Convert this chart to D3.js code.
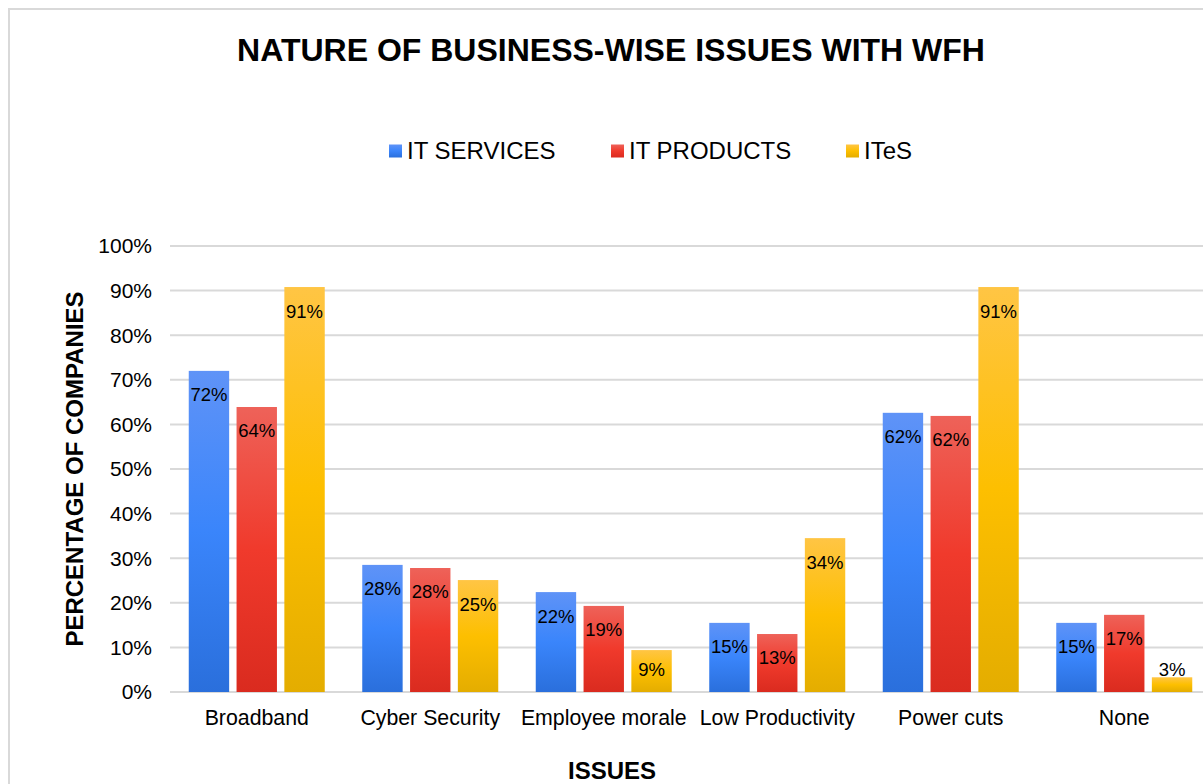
<!DOCTYPE html>
<html><head><meta charset="utf-8">
<script src="https://cdn.jsdelivr.net/npm/d3@7"></script>
<style>html,body{margin:0;padding:0;background:#fff;} svg{display:block;font-family:"Liberation Sans",Arial,sans-serif;}</style>
</head><body>
<svg id="c" width="1203" height="784"></svg>
<script>
const categories = ["Broadband","Cyber Security","Employee morale","Low Productivity","Power cuts","None"];
const seriesNames = ["IT SERVICES","IT PRODUCTS","ITeS"];
const itServices = [72.0, 28.5, 22.4, 15.5, 62.6, 15.5];
const itProducts = [63.9, 27.8, 19.3, 13.0, 61.9, 17.3];
const ites = [90.8, 25.1, 9.4, 34.5, 90.8, 3.3];
const yTicks = [0,10,20,30,40,50,60,70,80,90,100];
const labelText = [
  ["72%","28%","22%","15%","62%","15%"],
  ["64%","28%","19%","13%","62%","17%"],
  ["91%","25%","9%","34%","91%","3%"]
];

const seriesValues = [itServices, itProducts, ites];
const grads = [
  ["#5f93f7","#3a85fb","#2a6fdc"],
  ["#ee6259","#f03a2c","#da2b1f"],
  ["#ffc544","#fdbf00","#e4ad00"]
];

const svg = d3.select("#c");
const defs = svg.append("defs");
grads.forEach((g,i)=>{
  const lg = defs.append("linearGradient").attr("id","g"+i).attr("x1",0).attr("y1",0).attr("x2",0).attr("y2",1);
  lg.append("stop").attr("offset","0%").attr("stop-color",g[0]);
  lg.append("stop").attr("offset","50%").attr("stop-color",g[1]);
  lg.append("stop").attr("offset","100%").attr("stop-color",g[2]);
});

// border
svg.append("rect").attr("x",9).attr("y",9).attr("width",1300).attr("height",900)
  .attr("fill","none").attr("stroke","#d9d9d9").attr("stroke-width",2);

const pL = 170, pR = 170 + 6*173.5, pT = 246, pB = 692;
const y = d3.scaleLinear().domain([0,100]).range([pB, pT]);
const x0 = d3.scaleBand().domain(categories).range([pL, pR]).paddingInner(0).paddingOuter(0);
const x1 = d3.scaleBand().domain(seriesNames).range([18.75, 173.5-18.75]).paddingInner(0.155).paddingOuter(0);

// gridlines
svg.append("g").selectAll("line").data(yTicks).join("line")
  .attr("x1",pL).attr("x2",1210).attr("y1",d=>y(d)).attr("y2",d=>y(d))
  .attr("stroke","#d9d9d9").attr("stroke-width",2);

// y tick labels
svg.append("g").selectAll("text").data(yTicks).join("text")
  .attr("x",152).attr("y",d=>y(d)).attr("dy","0.35em").attr("text-anchor","end")
  .attr("font-size",21).attr("fill","#000").text(d=>d+"%");

// bars
const barData = [];
seriesValues.forEach((vals,si)=>vals.forEach((v,ci)=>barData.push({si,ci,v})));
svg.append("g").selectAll("rect").data(barData).join("rect")
  .attr("x",d=>x0(categories[d.ci])+x1(seriesNames[d.si]))
  .attr("width",x1.bandwidth())
  .attr("y",d=>y(d.v)).attr("height",d=>y(0)-y(d.v))
  .attr("fill",d=>"url(#g"+d.si+")");

// labels
svg.append("g").selectAll("text").data(barData).join("text")
  .attr("x",d=>x0(categories[d.ci])+x1(seriesNames[d.si])+x1.bandwidth()/2)
  .attr("y",d=>Math.min(y(d.v)+24, y(0)-22))
  .attr("dy","0.35em").attr("text-anchor","middle").attr("font-size",18.5).attr("fill","#000")
  .text(d=>labelText[d.si][d.ci]);

// category labels
svg.append("g").selectAll("text").data(categories).join("text")
  .attr("x",d=>x0(d)+x0.bandwidth()/2).attr("y",718).attr("dy","0.35em")
  .attr("text-anchor","middle").attr("font-size",21.3).attr("fill","#000").text(d=>d);

// title
svg.append("text").attr("x",611).attr("y",50).attr("dy","0.35em").attr("text-anchor","middle")
  .attr("font-size",32).attr("font-weight","bold").text("NATURE OF BUSINESS-WISE ISSUES WITH WFH");

// axis titles
svg.append("text").attr("x",612).attr("y",771).attr("dy","0.35em").attr("text-anchor","middle")
  .attr("font-size",24).attr("font-weight","bold").text("ISSUES");
svg.append("text").attr("transform","translate(75,469) rotate(-90)").attr("dy","0.35em").attr("text-anchor","middle")
  .attr("font-size",24).attr("font-weight","bold").text("PERCENTAGE OF COMPANIES");

// legend
const legX = [389, 611, 846];
const leg = svg.append("g").selectAll("g").data(seriesNames).join("g")
  .attr("transform",(d,i)=>`translate(${legX[i]},151)`);
leg.append("rect").attr("x",0).attr("y",-6.5).attr("width",13).attr("height",13).attr("fill",(d,i)=>"url(#g"+i+")");
leg.append("text").attr("x",18).attr("y",0).attr("dy","0.35em").attr("font-size",24).text(d=>d);
</script>
</body></html>
